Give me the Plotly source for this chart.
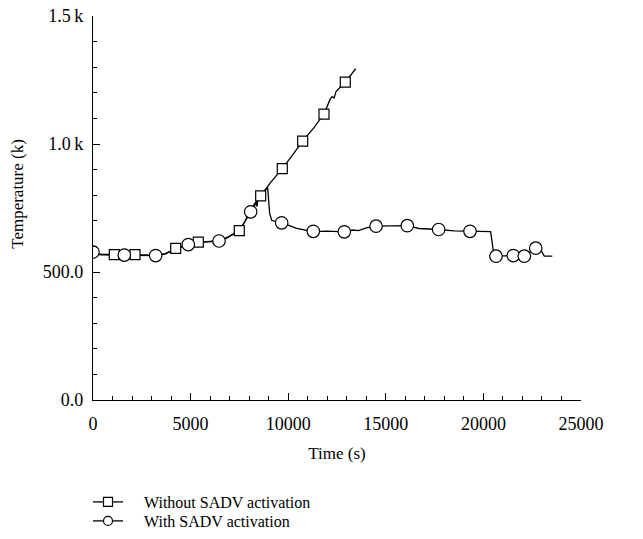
import plotly.graph_objects as go

# ---- data ----
# Without SADV activation (line samples)
time_without = [0, 600, 1091, 1700, 2152, 2700, 3210, 3700, 4236, 4800, 5395, 5900, 6420, 6800,
                7100, 7495, 7800, 8100, 8350, 8400, 8450, 8590, 9100, 9698, 10200, 10741, 11300,
                11834, 12150, 12250, 12350, 12450, 12925, 13200, 13300, 13458]
temp_without = [570, 569, 568, 567, 568, 567, 566, 570, 592, 604, 617, 619, 621, 630,
                645, 662, 700, 745, 775, 755, 790, 797, 850, 904, 955, 1011, 1062,
                1117, 1175, 1185, 1180, 1205, 1242, 1268, 1275, 1294]
# Without SADV activation (marker points)
mk_time_without = [1091, 2152, 4236, 5395, 7495, 8590, 9698, 10741, 11834, 12925]
mk_temp_without = [568, 568, 592, 617, 662, 797, 904, 1011, 1117, 1242]

# With SADV activation (line samples)
time_with = [0, 150, 400, 1604, 2500, 3211, 3700, 4300, 4882, 5500, 6455, 7000, 7500, 8078,
             8600, 8948, 9000, 9050, 9153, 9400, 9665, 10000, 10435, 10900, 11286, 12000,
             12875, 13300, 13600, 14000, 14500, 15300, 16102, 16700, 17000, 17707, 18500,
             19313, 20369, 20505, 20645, 21100, 21533, 22097, 22680, 22950, 23120, 23530]
temp_with = [578, 572, 567, 566, 565, 564, 572, 592, 607, 617, 621, 640, 662, 735,
             800, 830, 780, 729, 702, 697, 692, 683, 670, 664, 658, 660,
             657, 664, 662, 672, 679, 680, 681, 670, 668, 666, 661,
             659, 658, 585, 562, 563, 564, 562, 593, 585, 562, 562]
# With SADV activation (marker points)
mk_time_with = [0, 1604, 3211, 4882, 6455, 8078, 9665, 11286, 12875, 14500, 16102, 17707,
                19313, 20645, 21533, 22097, 22680]
mk_temp_with = [578, 566, 564, 607, 621, 735, 692, 659, 657, 679, 681, 666,
                659, 562, 564, 562, 593]

x_ticks = [0, 5000, 10000, 15000, 20000, 25000]
x_ticktext = ["0", "5000", "10000", "15000", "20000", "25000"]
y_ticks = [0, 500, 1000, 1500]
y_ticktext = ["0.0", "500.0", "1.0\u2009k", "1.5\u2009k"]

FONT = "Liberation Serif"
FS = 17
TFS = 18
LFS = 16
LW = 1.3
PAD = "\u00a0" * 4

fig = go.Figure()

# lines
fig.add_trace(go.Scatter(x=time_without, y=temp_without, mode="lines",
                         line=dict(color="black", width=LW), showlegend=False, hoverinfo="skip"))
fig.add_trace(go.Scatter(x=time_with, y=temp_with, mode="lines",
                         line=dict(color="black", width=LW), showlegend=False, hoverinfo="skip"))
# markers
fig.add_trace(go.Scatter(x=mk_time_without, y=mk_temp_without, mode="markers",
                         marker=dict(symbol="square", size=10, color="white",
                                     line=dict(color="black", width=1.2)),
                         showlegend=False))
fig.add_trace(go.Scatter(x=mk_time_with, y=mk_temp_with, mode="markers",
                         marker=dict(symbol="circle", size=12.5, color="white",
                                     line=dict(color="black", width=1.2)),
                         showlegend=False))
# legend entries
fig.add_trace(go.Scatter(x=[None], y=[None], mode="lines+markers",
                         name=PAD + "Without SADV activation", legend="legend",
                         line=dict(color="black", width=LW),
                         marker=dict(symbol="square", size=9, color="white",
                                     line=dict(color="black", width=1.2))))
fig.add_trace(go.Scatter(x=[None], y=[None], mode="lines+markers",
                         name=PAD + "With SADV activation", legend="legend2",
                         line=dict(color="black", width=LW),
                         marker=dict(symbol="circle", size=9, color="white",
                                     line=dict(color="black", width=1.2))))

leg_common = dict(xref="container", yref="container", xanchor="left", yanchor="middle",
                  font=dict(family=FONT, size=LFS), bgcolor="rgba(0,0,0,0)", borderwidth=0)

fig.update_layout(
    width=643, height=539,
    margin=dict(l=93, r=62, t=16, b=139, autoexpand=False),
    paper_bgcolor="white", plot_bgcolor="white",
    font=dict(family=FONT, size=FS, color="black"),
    legend=dict(x=88 / 643, y=(539 - 502) / 539, **leg_common),
    legend2=dict(x=88 / 643, y=(539 - 521) / 539, **leg_common),
    xaxis=dict(range=[0, 25000], tickvals=x_ticks, ticktext=x_ticktext, showgrid=False,
               zeroline=False, showline=True, linecolor="black", linewidth=1.2,
               ticks="inside", ticklen=7, tickwidth=1.2, tickcolor="black",
               tickfont=dict(size=TFS), ticklabelstandoff=7,
               minor=dict(dtick=1000, ticks="inside", ticklen=4, tickwidth=1.2, tickcolor="black"),
               title=dict(text="Time (s)", standoff=14, font=dict(size=FS))),
    yaxis=dict(range=[0, 1500], tickvals=y_ticks, ticktext=y_ticktext, showgrid=False,
               zeroline=False, showline=True, linecolor="black", linewidth=1.2,
               ticks="inside", ticklen=7, tickwidth=1.2, tickcolor="black",
               tickfont=dict(size=TFS), ticklabelstandoff=5,
               minor=dict(dtick=100, ticks="inside", ticklen=4, tickwidth=1.2, tickcolor="black")),
    annotations=[dict(text="Temperature (k)", textangle=-90, xref="paper", yref="paper",
                      x=(18 - 93) / 488, y=(400.5 - 194) / 384.6, xanchor="center",
                      yanchor="middle", showarrow=False, font=dict(family=FONT, size=FS))],
)

fig.write_html("out.html")
